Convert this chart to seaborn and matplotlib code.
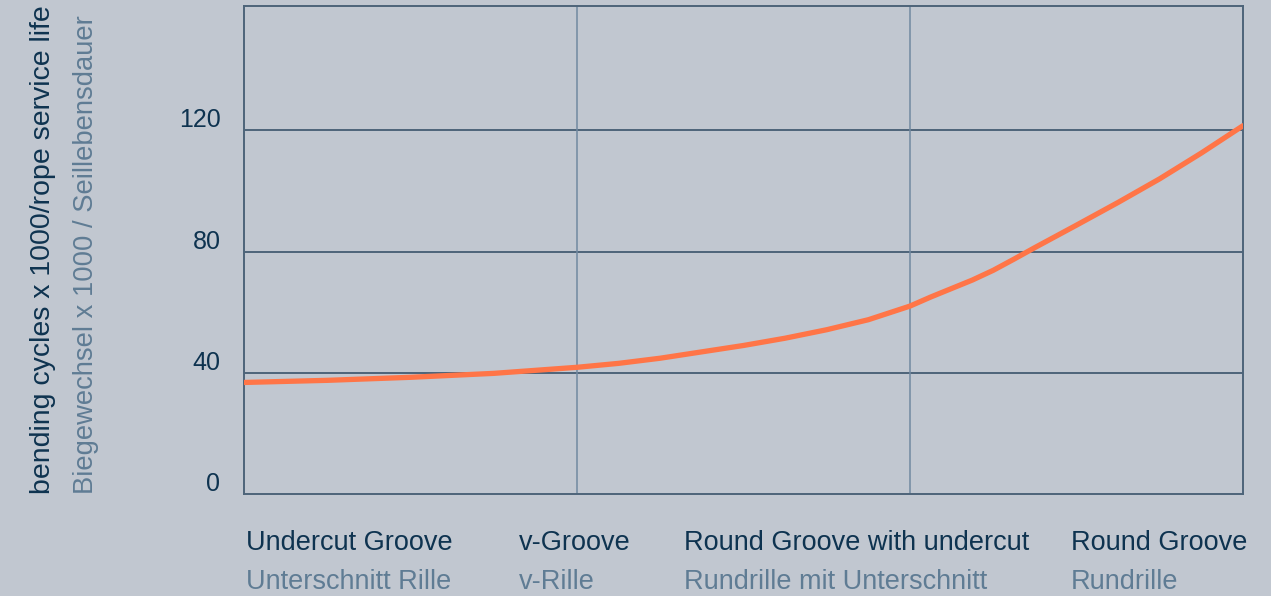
import matplotlib
matplotlib.use("Agg")
from matplotlib import pyplot as plt
from matplotlib import transforms
import seaborn as sns

# groove types (english / german)
grooves_en = ["Undercut Groove", "v-Groove", "Round Groove with undercut", "Round Groove"]
grooves_de = ["Unterschnitt Rille", "v-Rille", "Rundrille mit Unterschnitt", "Rundrille"]

# curve (x = groove position, y = bending cycles x 1000)
curve_x = [0, 0.25, 0.5, 0.75, 1.0, 1.125, 1.25, 1.375, 1.5, 1.625, 1.75, 1.875, 2.0,
           2.0625, 2.125, 2.1875, 2.25, 2.3125, 2.375, 2.4375, 2.5, 2.625, 2.75, 2.875, 3.0]
cycles = [36.8, 37.5, 38.5, 39.8, 41.8, 43.1, 44.8, 46.9, 49.0, 51.4, 54.2, 57.5, 62.0,
          65.0, 67.8, 70.6, 73.8, 77.5, 81.3, 85.0, 88.7, 96.2, 104.0, 112.5, 121.5]

y_ticks = [0, 40, 80, 120]

BG = "#c1c7d0"
DARK = "#0e3350"
GREY = "#5f7c94"
LINE = "#4d6479"
VLINE = "#7189a0"
ORANGE = "#ff7547"

sns.set_theme(style="white", rc={"axes.facecolor": BG, "figure.facecolor": BG})
plt.rcParams["font.family"] = ["Liberation Sans", "DejaVu Sans"]

fig = plt.figure(figsize=(12.71, 5.96), dpi=100)
ax = fig.add_axes([244 / 1271, 1 - 494 / 596, (1243 - 244) / 1271, (494 - 6) / 596])

ax.set_xlim(0, 3)
ax.set_ylim(0, 161)

# grid
for v in y_ticks[1:]:
    ax.axhline(v, color=LINE, lw=1.4, zorder=1)
for v in [1, 2]:
    ax.axvline(v, color=VLINE, lw=1.1, zorder=1)

sns.lineplot(x=curve_x, y=cycles, ax=ax, color=ORANGE, lw=3.8, zorder=3)

for s in ax.spines.values():
    s.set_color(LINE)
    s.set_linewidth(1.4)
    s.set_visible(True)

ax.set_xticks([])
ax.set_yticks(y_ticks)
ax.set_yticklabels([str(t) for t in y_ticks], fontsize=18, color=DARK, va="baseline")
ax.tick_params(axis="y", length=0, pad=17)
offset = transforms.ScaledTranslation(0, 3 / 100, fig.dpi_scale_trans)
for lab in ax.get_yticklabels():
    lab.set_transform(lab.get_transform() + offset)

# category labels below the plot (left aligned, pixel positions)
label_px = [246, 519, 684, 1071]
for px, en, de in zip(label_px, grooves_en, grooves_de):
    fig.text(px / 1271, 1 - 550 / 596, en, fontsize=19.5, color=DARK, ha="left", va="baseline")
    fig.text(px / 1271, 1 - 589 / 596, de, fontsize=19.5, color=GREY, ha="left", va="baseline")

# y axis titles
fig.text(56 / 1271, 1 - 494 / 596, "bending cycles x 1000/rope service life",
         rotation=90, fontsize=20.5, color=DARK, ha="left", va="bottom", rotation_mode="anchor")
fig.text(99 / 1271, 1 - 494 / 596, "Biegewechsel x 1000 / Seillebensdauer",
         rotation=90, fontsize=19.7, color=GREY, ha="left", va="bottom", rotation_mode="anchor")

ax.set_xlabel("")
ax.set_ylabel("")
plt.savefig("out.png", dpi=100, facecolor=BG)
